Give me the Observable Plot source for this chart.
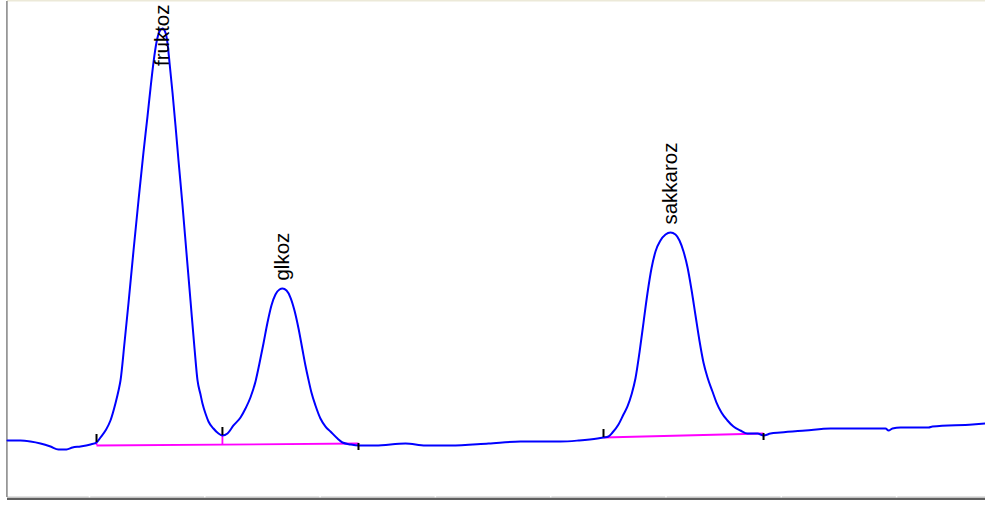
<!DOCTYPE html>
<html>
<head>
<meta charset="utf-8">
<script src="https://cdn.jsdelivr.net/npm/d3@7"></script>
<script src="https://cdn.jsdelivr.net/npm/@observablehq/plot@0.6"></script>
<style>
  html, body { margin: 0; padding: 0; background: #ffffff; }
  #chart svg { display: block; }
</style>
</head>
<body>
<div id="chart"></div>
<script>
// ---- Chromatogram trace (retention time in min, detector signal) ----
const traceTime = [
  0.289, 0.402, 0.488, 0.575, 0.662, 0.731, 0.801, 0.853, 0.922, 1.009, 1.061,
  1.095, 1.139, 1.182, 1.225, 1.252, 1.269, 1.304, 1.338, 1.382, 1.425, 1.468,
  1.503, 1.529, 1.555, 1.581, 1.607, 1.633, 1.659, 1.676, 1.694, 1.720, 1.746,
  1.772, 1.807, 1.841, 1.876, 1.911, 1.937, 1.963, 1.980, 2.006, 2.032, 2.075,
  2.119, 2.153,
  2.197, 2.249, 2.310, 2.353, 2.396, 2.440, 2.474, 2.509, 2.544, 2.578, 2.613,
  2.648, 2.674, 2.709, 2.743, 2.778, 2.813, 2.847, 2.873, 2.899, 2.925, 2.960,
  3.003, 3.047, 3.090, 3.151, 3.194, 3.264, 3.333,
  3.480, 3.741, 3.914, 4.131, 4.461, 4.738, 5.085, 5.241, 5.406, 5.458,
  5.501, 5.536, 5.588, 5.631, 5.666, 5.701, 5.735, 5.770, 5.805, 5.839, 5.874,
  5.909, 5.952, 5.996, 6.039, 6.082, 6.117, 6.152, 6.187, 6.221, 6.256, 6.290,
  6.325, 6.360, 6.403, 6.438, 6.481, 6.533, 6.585, 6.646, 6.707, 6.794, 6.846,
  6.906, 6.993, 7.210, 7.427, 7.600, 7.904, 7.930, 7.964, 8.034, 8.277, 8.311,
  8.658, 8.771
];
const traceSignal = [
  11.49, 11.49, 11.29, 10.89, 10.28, 9.68, 9.68, 10.08, 10.28, 10.69, 11.09,
  12.10, 13.51, 15.52, 18.95, 21.57, 23.59, 31.25, 39.11, 49.80, 59.88, 69.55,
  76.81, 82.45, 87.70, 91.73, 93.95, 94.55, 93.74, 91.73, 87.70, 81.65, 75.00,
  67.94, 58.87, 49.39, 39.72, 30.04, 23.59, 20.76, 18.95, 16.93, 15.32, 13.91,
  12.90, 12.50,
  12.90, 14.52, 16.13, 17.94, 20.16, 23.39, 27.01, 31.05, 35.28, 38.71, 40.92,
  41.93, 42.13, 41.73, 40.32, 37.70, 34.07, 29.84, 26.61, 23.79, 21.17, 18.55,
  15.93, 14.31, 13.31, 11.89, 11.09, 10.69, 10.48,
  10.48, 10.89, 10.48, 10.48, 10.89, 11.29, 11.29, 11.49, 11.89, 12.10,
  12.30, 13.10, 14.72, 16.73, 18.35, 20.76, 23.99, 29.23, 35.28, 41.13, 46.17,
  49.59, 51.81, 53.02, 53.42, 53.02, 51.81, 49.59, 46.37, 41.93, 36.69, 31.65,
  27.22, 24.19, 21.37, 19.15, 17.14, 15.52, 14.31, 13.51, 12.90, 12.90, 12.50,
  12.90, 13.10, 13.51, 13.91, 13.91, 13.91, 13.51, 13.91, 14.11, 14.11, 14.31,
  14.72, 14.92
];

// ---- Peaks ----
const peakNames = ["fruktoz", "glkoz", "sakkaroz"];
const peakTime = [1.633, 2.674, 6.039];
const peakSignal = [94.55, 42.13, 53.42];

// ---- Integration baselines ----
const baseStartTime = [1.061, 5.458];
const baseStartSignal = [10.48, 12.10];
const baseEndTime = [3.333, 6.846];
const baseEndSignal = [10.89, 12.90];

// ---- Integration events (start / valley / end marks) ----
const eventTime = [1.061, 2.153, 3.333, 5.458, 6.846];
const eventSignal = [11.09, 12.50, 10.48, 12.10, 12.50];
const eventBase = [10.48, 10.68, 10.89, 12.10, 12.90];
const eventKind = ["start", "valley", "end", "start", "end"];

// ---- Time axis ticks (minutes) ----
const tickTimes = [1, 2, 3, 4, 5, 6, 7, 8];
const timeDomain = [0.289, 8.771];
const signalDomain = [0, 100];

// ---- Build tables ----
const trace = traceTime.map((t, i) => ({t, v: traceSignal[i]}));
const segments = baseStartTime.map((t, i) => ({
  t1: t, v1: baseStartSignal[i], t2: baseEndTime[i], v2: baseEndSignal[i]
}));
const events = eventTime.map((t, i) => ({
  t, v: eventSignal[i], base: eventBase[i], kind: eventKind[i]
}));

const W = 985, H = 505;
const mTop = 1, mBottom = 8, mLeft = 7, mRight = 0;
const ppu = (H - mTop - mBottom) / (signalDomain[1] - signalDomain[0]);
const fontSize = 20.5;
const fontFamily = "Liberation Sans, Arial, sans-serif";

const ctx = document.createElement("canvas").getContext("2d");
ctx.font = `${fontSize}px ${fontFamily}`;
const peaks = peakNames.map((name, i) => {
  const len = ctx.measureText(name).width;
  const labelV = Math.min(peakSignal[i] + 8 / ppu, signalDomain[1] - (len + 3) / ppu);
  return {name, t: peakTime[i], v: peakSignal[i], labelV};
});

const upLen = 8 / ppu, downLen = 7 / ppu;
const marksUp = events.filter(d => d.kind !== "end");
const marksDown = events.filter(d => d.kind === "end");

const plot = Plot.plot({
  width: W,
  height: H,
  marginTop: mTop,
  marginBottom: mBottom,
  marginLeft: mLeft,
  marginRight: mRight,
  x: {domain: timeDomain, axis: null},
  y: {domain: signalDomain, axis: null},
  style: {background: "#ffffff", overflow: "visible"},
  marks: [
    // top window edge
    Plot.ruleY([signalDomain[1]], {stroke: "#ece9d8", strokeWidth: 1.5, dy: -0.8}),
    // bottom axis (light line with gaps at ticks, dark line below)
    Plot.ruleY([signalDomain[0]], {stroke: "#c4c4c4", strokeWidth: 1.5, dy: -0.2}),
    Plot.ruleX(tickTimes, {y1: signalDomain[0] - 0.05, y2: signalDomain[0] + 0.5, stroke: "#ffffff", strokeWidth: 1.5}),
    Plot.ruleY([signalDomain[0]], {stroke: "#2a2a2a", strokeWidth: 1.6, dy: 1.5}),
    // left frame
    Plot.ruleX([timeDomain[0]], {stroke: "#8c8c8c", strokeWidth: 1.6, dx: -0.6}),
    // integration baselines
    Plot.link(segments, {x1: "t1", y1: "v1", x2: "t2", y2: "v2", stroke: "#ff00ff", strokeWidth: 1.8}),
    Plot.ruleX(marksUp, {x: "t", y1: "base", y2: "v", stroke: "#ff00ff", strokeWidth: 1.8}),
    // signal
    Plot.line(trace, {x: "t", y: "v", stroke: "#0000ff", strokeWidth: 2, curve: "monotone-x"}),
    // event ticks
    Plot.ruleX(marksUp, {x: "t", y1: "v", y2: d => d.v + upLen, stroke: "#000000", strokeWidth: 2}),
    Plot.ruleX(marksDown, {x: "t", y1: "base", y2: d => d.base - downLen, stroke: "#000000", strokeWidth: 2}),
    // peak labels
    Plot.text(peaks, {
      x: "t", y: "labelV", text: "name", rotate: -90,
      textAnchor: "start", lineAnchor: "middle",
      fontSize, fontFamily, fill: "#000000"
    })
  ]
});
document.getElementById("chart").appendChild(plot);
</script>
</body>
</html>
